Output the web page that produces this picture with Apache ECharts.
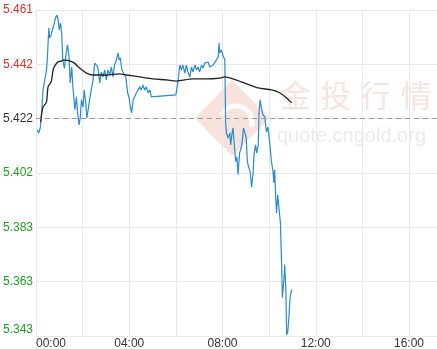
<!DOCTYPE html>
<html>
<head>
<meta charset="utf-8">
<script src="https://cdn.jsdelivr.net/npm/echarts@6/dist/echarts.min.js"></script>
<style>
html,body{margin:0;padding:0;background:#fff;}
#c{width:437px;height:349px;}
</style>
</head>
<body>
<div id="c"></div>
<script>
// Minutes after 00:00 for each price point
const priceMinutes = [3,7,11,15,18,22,27,29,33,35,39,42,46,50,54,57,60,63,66,69,73,75,78,81,85,88,92,95,100,104,107,111,114,117,121,124,128,131,134,138,142,147,151,155,159,164,168,172,177,181,185,190,194,198,202,207,211,214,217,221,226,231,236,239,243,246,250,254,258,262,267,271,275,280,284,288,293,297,301,360,366,370,374,378,383,387,391,396,400,404,409,413,417,421,426,430,434,439,443,447,452,456,460,464,469,471,473,477,481,486,488,490,494,499,501,505,507,511,514,517,520,524,527,530,534,537,541,544,548,551,555,559,561,565,568,572,574,577,580,584,589,593,597,602,606,610,612,614,617,619,622,626,629,632,634,638,640,643,645,648,651,654,658];
const prices = [5.4179,5.4168,5.4187,5.4252,5.4324,5.4331,5.4396,5.4432,5.4548,5.4512,5.4523,5.4541,5.4559,5.4584,5.4595,5.4577,5.4541,5.4566,5.4530,5.4432,5.4403,5.4407,5.4461,5.4487,5.4443,5.4349,5.4407,5.4335,5.4252,5.4299,5.4241,5.4197,5.4226,5.4288,5.4262,5.4324,5.4277,5.4223,5.4223,5.4288,5.4324,5.4360,5.4421,5.4425,5.4407,5.4349,5.4389,5.4371,5.4396,5.4360,5.4396,5.4378,5.4407,5.4371,5.4414,5.4432,5.4458,5.4432,5.4440,5.4396,5.4389,5.4371,5.4313,5.4299,5.4262,5.4241,5.4288,5.4299,5.4313,5.4317,5.4335,5.4324,5.4342,5.4324,5.4335,5.4313,5.4324,5.4299,5.4306,5.4306,5.4360,5.4414,5.4396,5.4414,5.4385,5.4414,5.4389,5.4371,5.4407,5.4389,5.4414,5.4396,5.4407,5.4389,5.4414,5.4403,5.4421,5.4421,5.4425,5.4407,5.4414,5.4414,5.4421,5.4432,5.4443,5.4494,5.4458,5.4468,5.4450,5.4432,5.4205,5.4168,5.4150,5.4168,5.4125,5.4172,5.4187,5.4114,5.4064,5.4082,5.4017,5.4096,5.4089,5.4125,5.4187,5.4187,5.4150,5.4064,5.4042,5.4028,5.3973,5.4028,5.4089,5.4125,5.4096,5.4125,5.4244,5.4288,5.4259,5.4234,5.4226,5.4172,5.4190,5.4125,5.4064,5.4028,5.3988,5.4035,5.3937,5.3879,5.3944,5.3944,5.3843,5.3699,5.3572,5.3637,5.3692,5.3601,5.3438,5.3449,5.3504,5.3576,5.3601];
// Average price line
const avgMinutes = [12,18,27,31,39,44,48,56,65,69,78,87,99,112,130,147,181,215,233,267,301,336,361,404,439,473,486,507,542,572,606,628,645,658];
const avgPrices = [5.4208,5.4262,5.4280,5.4335,5.4354,5.4396,5.4410,5.4425,5.4428,5.4432,5.4432,5.4429,5.4421,5.4403,5.4385,5.4378,5.4378,5.4382,5.4378,5.4371,5.4364,5.4360,5.4356,5.4364,5.4364,5.4367,5.4371,5.4364,5.4346,5.4331,5.4324,5.4313,5.4295,5.4277];
// Previous close and tick step
const prevClose = 5.4220;
const tickStep = 0.01966;
const yTickSteps = [-4,-3,-2,-1,0,1,2];
const xLabelHours = [0,4,8,12,16];
const axisEndMinutes = 1032;

const toY = v => (v - prevClose) / tickStep;
const blueData = priceMinutes.map((t,i)=>[t, toY(prices[i])]);
const avgData = avgMinutes.map((t,i)=>[t, toY(avgPrices[i])]);
const pad = n => (n<10?'0':'')+n;

const chart = echarts.init(document.getElementById('c'), null, {renderer:'canvas'});
chart.setOption({
  animation:false,
  backgroundColor:'#fff',
  grid:{left:36,right:0,top:10,bottom:13,containLabel:false,outerBoundsMode:'none'},
  xAxis:{
    type:'value', min:0, max:axisEndMinutes, interval:120,
    axisLine:{show:false}, axisTick:{show:false},
    splitLine:{show:true,lineStyle:{color:'#e8e8e8',width:1}},
    axisLabel:{
      margin:2, color:'#333', fontSize:12, fontFamily:'Liberation Sans, Arial, sans-serif',
      alignMinLabel:'left', showMaxLabel:false,
      formatter:v=>{ const h=v/60; return (v%240===0 && xLabelHours.indexOf(h)>=0)? pad(h)+':00' : ''; }
    }
  },
  yAxis:{
    type:'value', min:yTickSteps[0], max:yTickSteps[yTickSteps.length-1], interval:1,
    axisLine:{show:false}, axisTick:{show:false},
    splitLine:{show:true,lineStyle:{color:'#e8e8e8',width:1}},
    axisLabel:{
      margin:3, fontSize:12, fontFamily:'Liberation Sans, Arial, sans-serif',
      verticalAlignMinLabel:'bottom',
      formatter:v=>(prevClose+v*tickStep).toFixed(3),
      color:v=> v>0.001 ? '#dd2f2c' : (v< -0.001 ? '#1f9e1f' : '#333')
    }
  },
  graphic:[
    {type:'polygon', z:0, silent:true, shape:{points:[[195,118],[232,80],[270,118],[232,156]]}, style:{fill:'#f8e3dc'}},
    {type:'arc', z:0, silent:true, shape:{cx:236,cy:122,r:16,startAngle:3.6,endAngle:6.6}, style:{stroke:'#ffffff',lineWidth:5,fill:null}},
    {type:'text', z:0, silent:true, x:280, y:95, style:{text:'金',font:'31px "Noto Sans CJK SC"',fill:'#f7e4de',verticalAlign:'middle'}},
    {type:'text', z:0, silent:true, x:320, y:95, style:{text:'投',font:'31px "Noto Sans CJK SC"',fill:'#f7e4de',verticalAlign:'middle'}},
    {type:'text', z:0, silent:true, x:360, y:95, style:{text:'行',font:'31px "Noto Sans CJK SC"',fill:'#f7e4de',verticalAlign:'middle'}},
    {type:'text', z:0, silent:true, x:401, y:95, style:{text:'情',font:'31px "Noto Sans CJK SC"',fill:'#f7e4de',verticalAlign:'middle'}},
    {type:'text', z:0, silent:true, x:277, y:136, style:{text:'quote.cngold.org',font:'20px "Liberation Sans", Arial',fill:'#ebebeb',verticalAlign:'middle'}}
  ],
  series:[
    {
      type:'line', data:blueData, showSymbol:false, symbol:'none', z:3,
      lineStyle:{color:'#2a8bd0',width:1.2},
      markLine:{silent:true,symbol:'none',label:{show:false},
        lineStyle:{color:'#9a9a9a',type:[5,4],width:1},
        data:[{yAxis:0}]}
    },
    {
      type:'line', data:avgData, showSymbol:false, symbol:'none', smooth:0.3, z:4,
      lineStyle:{color:'#222',width:1.3}
    }
  ]
});
</script>
</body>
</html>
